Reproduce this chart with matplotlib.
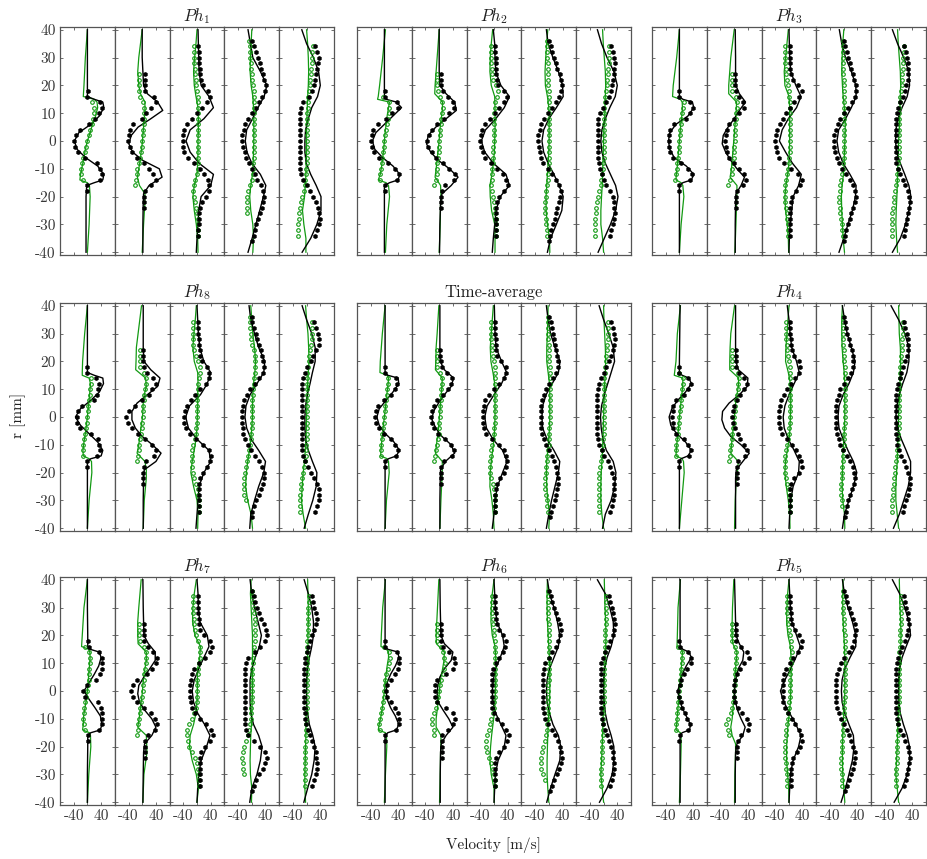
import numpy as np
import matplotlib.pyplot as plt

nan = np.nan

# radial stations [mm]; experiments per sub-column, simulation samples per sub-column
R_EXP_1 = [18, 16, 14, 12, 10, 8, 6, 4, 2, 0, -2, -4, -6, -8, -10, -12, -14, -16, -18]
R_EXP_2 = [24, 22, 20, 18, 16, 14, 12, 10, 8, 6, 4, 2, 0, -2, -4, -6, -8, -10, -12, -14, -16, -18, -20, -22, -24]
R_EXP_3 = [34, 32, 30, 28, 26, 24, 22, 20, 18, 16, 14, 12, 10, 8, 6, 4, 2, 0, -2, -4, -6, -8, -10, -12,
           -14, -16, -18, -20, -22, -24, -26, -28, -30, -32, -34]
R_EXP_4 = [36, 34, 32, 30, 28, 26, 24, 22, 20, 18, 16, 14, 12, 10, 8, 6, 4, 2, 0, -2, -4, -6, -8, -10, -12,
           -14, -16, -18, -20, -22, -24, -26, -28, -30, -32, -34, -36]
R_EXP = [R_EXP_1, R_EXP_2, R_EXP_3, R_EXP_4, R_EXP_3]

R_SIM_1 = [40, 30, 20, 16, 15, 14, 12, 9, 6, 3, 0, -3, -6, -9, -12, -14, -15, -16, -20, -30, -40]
R_SIM_2 = [40, 30, 25, 20, 17, 14, 11, 8, 5, 2, -1, -4, -7, -10, -13, -16, -19, -22, -30, -40]
R_SIM_3 = [40, 35, 30, 25, 20, 16, 12, 8, 4, 0, -4, -8, -12, -16, -20, -25, -30, -35, -40]
R_SIM = [R_SIM_1, R_SIM_2, R_SIM_3, R_SIM_3, R_SIM_3]

# ---- Ph1 ----
PH1_AX_EXP = [
    [1, 0, 38, 43, 33, 23, 6, -22, -34, -40, -37, -27, -7, 28, 38, 43, 38, 0, 0],
    [7, 8, 8, 8, 34, 40, 25, 12, 0, -28, -36, -38, -42, -35, -30, -15, 5, 21, 32, 40, 27, 7, 5, 4, 4],
    [4, 6, 6, 7, 8, 9, 12, 18, 31, 38, 28, 16, 0, -15, -29, -38, -41, -42, -41, -38, -25, -8, 8, 20, 31,
     36, 36, 26, 14, 8, 6, 5, 5, 4, 4],
    [1, 6, 13, 17, 23, 28, 33, 37, 41, 38, 31, 21, 11, 1, -11, -19, -24, -29, -29, -27, -21, -17, -9, 1, 9,
     16, 26, 33, 36, 33, 29, 24, 19, 13, 9, 5, 1],
    [25, 30, 35, 34, 31, 28, 25, 22, 15, 6, -10, -16, -18, -18, -18, -18, -18, -18, -18, -18, -18, -18, -18,
     -16, -10, 0, 10, 20, 28, 32, 36, 38, 36, 30, 25],
]
PH1_TG_EXP = [
    [nan, nan, 12, 18, 20, 16, 12, 8, 4, 0, -4, -8, -12, -16, -20, -18, -12, nan, nan],
    [-10, -10, -10, -8, -5, 2, 5, 5, 5, 4, 3, 2, 0, -2, -4, -7, -10, -14, -16, -18, -20, nan, nan, nan, nan],
    [-10, -10, -9, -8, -7, -6, -4, -2, 0, 2, 3, 4, 4, 4, 4, 4, 4, 4, 4, 4, 4, 3, 2, 0, -6, -10, -12, -10, -6,
     -2, 0, 2, 2, 2, 2],
    [-8, -6, -5, -4, -3, -2, 0, 2, 4, 5, 6, 6, 6, 6, 5, 5, 5, 5, 5, 5, 5, 5, 4, 4, 3, 0, -6, -10, -13, -15,
     -15, -14, nan, nan, nan, nan, nan],
    [18, 17, 16, 15, 13, 12, 10, 9, 7, 5, 4, 3, 2, 2, 2, 2, 2, 2, 2, 1, 1, 0, -1, -2, -4, -6, -8, -12, -16,
     -20, -22, -23, -24, -25, -25],
]
PH1_AX_SIM = [
    [0, 0, 0, 0, 20, 45, 48, 35, 10, -25, -38, -30, -5, 30, 48, 45, 20, -2, -4, -4, -4],
    [0, 0, 2, 4, 15, 45, 60, 25, -12, -32, -39, -28, 2, 50, 58, 20, 4, 3, 2, 2],
    [3, 4, 5, 6, 12, 35, 48, 20, -20, -32, -20, 6, 48, 40, 12, 5, 3, 0, -2],
    [-11, -4, 3, 25, 44, 36, 18, 2, -15, -19, -14, 0, 25, 41, 34, 23, 12, 1, -11],
    [-14, 0, 20, 35, 40, 32, 15, 5, -3, -5, -5, -1, 12, 28, 42, 42, 30, 12, -13],
]
PH1_TG_SIM = [
    [0, -6, -10, -12, 20, 28, 30, 24, 15, 8, 0, -6, -10, -15, -20, -22, 0, 6, 8, 5, 0],
    [0, -10, -13, -10, -5, 8, 8, 6, 4, 2, 0, -3, -6, -10, -14, -8, 8, 8, 4, 0],
    [0, -3, -7, -10, -8, -3, 3, 4, 4, 3, 3, 2, 0, -8, -12, -8, -2, 2, 3],
    [0, -2, -4, -5, -2, 3, 5, 6, 6, 6, 5, 4, 2, -3, -6, -3, 3, 5, 3],
    [0, 3, 5, 6, 5, 3, 2, 1, 0, 0, 0, -1, -2, -4, -6, -12, -8, -2, -2],
]

# ---- Ph2 ----
PH2_AX_EXP = [
    [2, 3, 38, 40, 22, 5, -20, -33, -37, -38, -36, -30, -15, 10, 30, 42, 38, 2, 2],
    [4, 4, 5, 10, 25, 40, 42, 30, 15, -5, -20, -30, -36, -32, -22, -8, 10, 30, 45, 42, 18, 7, 6, 6, 6],
    [4, 4, 5, 5, 5, 6, 8, 13, 28, 37, 30, 15, 2, -12, -25, -35, -39, -40, -38, -32, -25, -8, 10, 25, 35,
     42, 30, 15, 8, 6, 5, 5, 5, 5, 5],
    [1, 5, 10, 15, 20, 25, 32, 36, 38, 36, 30, 22, 10, -2, -14, -22, -27, -31, -32, -30, -27, -22, -16, -2,
     10, 22, 30, 35, 34, 30, 25, 21, 17, 12, 7, 3, 1],
    [22, 27, 30, 32, 31, 29, 27, 25, 21, 15, 8, -3, -10, -15, -16, -17, -17, -17, -17, -17, -16, -14, -10,
     -5, 0, 8, 20, 26, 29, 31, 32, 30, 27, 23, 20],
]
PH2_TG_EXP = [
    [nan, -5, 12, 12, 12, 10, 7, 4, 2, 0, -2, -4, -6, -8, -10, -12, -12, nan, nan],
    [-5, -5, -5, -4, 2, 9, 10, 8, 6, 4, 2, 1, 0, -1, -2, -3, -5, -6, -7, -10, -16, nan, nan, nan, nan],
    [-9, -9, -8, -8, -7, -6, -4, 5, 12, 8, 4, 2, 0, 0, -1, -1, -1, -1, -2, -2, -3, -4, -5, -6, -7, -8, -7,
     -4, 0, 3, 4, 5, 5, 5, 5],
    [-4, -4, -4, -4, -3, -3, -2, -2, -1, 0, 1, 2, 2, 2, 2, 2, 2, 2, 2, 2, 2, 1, 1, 0, -1, -3, -5, -7, -9,
     -10, -10, -10, -9, -7, -5, -4, nan],
    [15, 15, 15, 15, 14, 13, 11, 9, 6, 4, 3, 2, 2, 2, 2, 1, 1, 1, 1, 0, 0, -2, -3, -5, -7, -9, -12, -15,
     -18, -21, -23, -24, -25, -25, -25],
]
PH2_AX_SIM = [
    [0, 0, 0, 0, 5, 35, 50, 25, 0, -25, -35, -28, -5, 25, 45, 40, 15, 0, 0, 0, 0],
    [0, 0, 0, 2, 20, 45, 50, 20, -10, -32, -37, -25, -2, 30, 55, 35, 8, 4, 2, 1],
    [-2, 2, 3, 5, 20, 45, 30, 5, -25, -37, -27, -2, 35, 45, 18, 6, 2, -2, -5],
    [-7, -2, 12, 28, 40, 42, 22, 0, -15, -20, -15, -2, 15, 30, 42, 38, 22, 5, -4],
    [-18, -6, 10, 30, 40, 34, 18, 5, -5, -8, -5, 5, 20, 35, 42, 35, 20, 2, -16],
]
PH2_TG_SIM = [
    [3, -5, -14, -18, -20, 15, 12, 8, 5, 2, 0, -2, -5, -8, -12, -18, 5, 12, 15, 7, 3],
    [0, -6, -9, -12, -13, 10, 9, 6, 3, 1, -1, -4, -6, -9, -12, 4, 5, 4, 3, 0],
    [-4, -8, -11, -12, -8, 2, 3, 3, 3, 2, 1, -2, -6, -12, -11, -7, 2, 3, 3],
    [-3, -6, -9, -11, -10, -4, 0, 1, 1, 1, 0, -2, -4, -6, -8, -8, -4, 2, 3],
    [-3, -1, 2, 5, 6, 5, 4, 3, 1, 0, -1, -2, -3, -4, -6, -8, -8, -3, 0],
]

# ---- Ph3 ----
PH3_AX_EXP = [
    [0, 0, 30, 40, 30, 18, -15, -28, -30, -30, -30, -28, -20, 5, 25, 38, 30, 0, 0],
    [3, 3, 3, 5, 13, 25, 28, 15, 0, -15, -20, -25, -27, -25, -20, -15, 0, 15, 28, 33, 25, 8, 4, 4, 4],
    [2, 3, 3, 4, 4, 6, 12, 25, 37, 30, 15, 2, -10, -18, -27, -35, -39, -40, -39, -36, -30, -15, 5, 25, 37,
     32, 20, 8, 5, 4, 3, 3, 3, 2, 2],
    [1, 4, 8, 12, 17, 22, 27, 31, 35, 37, 33, 25, 13, 2, -10, -18, -24, -28, -29, -28, -25, -21, -15, -5, 7,
     18, 28, 33, 36, 33, 28, 22, 17, 12, 7, 3, 1],
    [17, 21, 25, 27, 28, 28, 26, 23, 18, 12, 5, -2, -6, -8, -9, -9, -9, -9, -9, -9, -8, -7, -3, 4, 12, 20,
     27, 31, 32, 31, 28, 25, 22, 19, 15],
]
PH3_TG_EXP = [
    [nan, nan, 12, 11, 9, 6, 4, 2, 1, 0, -1, -2, -4, -6, -8, -10, -12, nan, nan],
    [-7, -7, -7, -6, 5, 8, 7, 5, 4, 3, 3, 2, 1, 0, -1, -2, -3, -5, -7, -12, -17, nan, nan, nan, nan],
    [-12, -12, -12, -11, -10, -8, -5, -2, 0, 1, 2, 2, 2, 2, 2, 2, 2, 2, 2, 2, 1, 0, -2, -5, -8, -11, -13,
     -13, -12, -10, -7, -5, -4, -3, -3],
    [-3, -3, -3, -3, -2, -2, -1, 0, 1, 2, 2, 2, 2, 2, 1, 1, 1, 1, 1, 1, 0, 0, -1, -2, -4, -7, -10, -12, -13,
     -13, -12, -10, -8, -6, -4, -3, nan],
    [15, 15, 14, 13, 12, 11, 10, 9, 7, 5, 3, 2, 2, 2, 2, 2, 2, 1, 1, 0, 0, -1, -2, -4, -6, -8, -10, -12,
     -14, -16, -18, -19, -20, -20, -20],
]
PH3_AX_SIM = [
    [0, 0, 0, 0, 10, 38, 42, 25, -10, -28, -32, -28, -15, 20, 42, 35, 10, 0, 0, 0, 0],
    [3, 4, 4, 5, 15, 33, 15, 0, -18, -32, -35, -25, -10, 8, 30, 20, 5, 4, 3, 3],
    [0, 1, 2, 5, 20, 35, 22, -2, -20, -28, -10, 10, 36, 28, 12, 8, 3, 1, 0],
    [-13, -6, 5, 22, 35, 36, 22, 5, -15, -20, -15, -2, 18, 36, 34, 25, 12, 0, -14],
    [-18, -3, 15, 30, 32, 25, 10, -2, -8, -9, -6, 5, 18, 30, 36, 30, 20, 5, -18],
]
PH3_TG_SIM = [
    [0, -8, -18, -20, 3, 8, 9, 7, 4, 2, 0, -2, -4, -6, -9, -10, 5, 10, 13, 5, 0],
    [0, -10, -13, -16, -16, 7, 6, 4, 2, 0, -2, -4, -6, -8, -12, 8, 8, 7, 5, 2],
    [-2, -6, -10, -14, -12, 0, 2, 2, 2, 2, 1, 0, -4, -9, -12, -10, -5, -2, -1],
    [0, -3, -5, -6, -4, -2, 2, 4, 4, 3, 2, 1, -1, -5, -7, -6, -4, -2, 2],
    [-3, -1, 2, 5, 6, 5, 4, 3, 2, 0, -1, -2, -3, -4, -5, -7, -8, -6, -3],
]

# ---- Ph8 ----
PH8_AX_EXP = [
    [0, 0, 25, 35, 32, 28, 18, -15, -28, -31, -30, -22, 10, 30, 35, 38, 28, 0, 0],
    [3, 3, 3, 5, 15, 32, 40, 30, 20, 0, -20, -38, -48, -42, -30, -12, 8, 28, 40, 35, 12, 5, 3, 3, 3],
    [3, 3, 4, 5, 6, 8, 10, 15, 28, 35, 35, 25, 10, -5, -18, -30, -36, -38, -37, -33, -20, -2, 18, 35, 42,
     38, 28, 18, 10, 7, 6, 5, 5, 5, 5],
    [0, 2, 6, 11, 16, 21, 26, 31, 34, 36, 33, 22, 8, -5, -15, -22, -26, -28, -28, -28, -27, -25, -20, -12,
     -2, 10, 22, 30, 36, 35, 32, 27, 20, 13, 7, 2, 0],
    [22, 27, 33, 37, 35, 28, 20, 12, 2, -5, -10, -12, -13, -13, -13, -13, -13, -13, -13, -13, -13, -13, -13,
     -12, -10, -5, 3, 12, 22, 30, 35, 37, 36, 30, 25],
]
PH8_TG_EXP = [
    [nan, nan, 10, 10, 9, 8, 6, 3, 1, 0, -2, -4, -7, -10, -12, -13, -12, nan, nan],
    [-7, -7, -7, -6, 5, 12, 10, 8, 6, 4, 3, 2, 1, 0, -2, -4, -6, -8, -10, -13, -16, nan, nan, nan, nan],
    [-12, -12, -12, -12, -11, -9, -4, 4, 8, 8, 5, 3, 2, 1, 1, 0, 0, 0, -1, -2, -4, -7, -11, -14, -15, -15,
     -14, -12, -8, -2, 2, 4, 5, 5, 5],
    [-5, -6, -5, -3, -1, 2, 5, 8, 10, 10, 8, 6, 5, 4, 3, 2, 2, 2, 2, 1, 0, -1, -3, -5, -8, -11, -15, -18,
     -21, -23, -24, -24, -22, -18, nan, nan, nan],
    [15, 16, 17, 16, 14, 11, 8, 6, 4, 2, 1, 0, 0, 0, 0, 0, 0, 0, 0, 0, 0, 0, -1, -2, -3, -5, -8, -10, -13,
     -15, -17, -18, -19, -19, -19],
]
PH8_AX_SIM = [
    [0, 0, 0, 0, 20, 45, 47, 35, 10, -20, -35, -20, 5, 30, 45, 40, 10, 0, 0, 0, 0],
    [3, 3, 3, 5, 25, 52, 45, 15, -15, -30, -30, -20, 0, 30, 55, 40, 6, 4, 3, 3],
    [0, 2, 4, 8, 20, 40, 30, 10, -22, -33, -25, 0, 35, 40, 20, 6, 3, 0, -3],
    [-8, -3, 8, 20, 38, 35, 15, -5, -17, -20, -15, -2, 20, 40, 35, 20, 8, -3, -6],
    [-13, 0, 15, 25, 25, 17, 10, 2, -3, -5, -5, -3, 5, 17, 30, 28, 18, 5, -7],
]
PH8_TG_SIM = [
    [0, -8, -14, -15, -15, 5, 9, 7, 5, 2, 0, -3, -6, -10, -13, -12, 5, 12, 13, 5, 0],
    [-2, -12, -17, -18, -19, 10, 12, 6, 3, 2, 0, -4, -7, -10, -15, 8, 12, 12, 6, 3],
    [-2, -5, -9, -12, -8, 2, 3, 2, 2, 1, 0, -3, -8, -14, -18, -10, 0, 3, 2],
    [-3, 0, 3, 8, 11, 9, 5, 3, 2, 2, 0, -3, -7, -12, -16, -18, -12, -2, 2],
    [-3, 0, 4, 6, 7, 5, 3, 2, 1, 0, -1, -2, -4, -6, -10, -13, -15, -10, -3],
]

# ---- Time-average ----
TA_AX_EXP = [
    [2, 2, 33, 38, 30, 18, 0, -18, -25, -27, -25, -15, 0, 20, 32, 40, 33, 3, 2],
    [3, 3, 4, 8, 22, 38, 35, 25, 10, -5, -15, -22, -25, -22, -15, -3, 18, 35, 42, 38, 15, 5, 4, 4, 4],
    [3, 3, 4, 5, 6, 7, 10, 20, 35, 36, 28, 15, 0, -15, -25, -30, -32, -32, -32, -30, -22, -5, 15, 28, 36,
     38, 35, 28, 18, 10, 6, 4, 3, 3, 3],
    [1, 5, 8, 11, 14, 18, 22, 25, 28, 26, 20, 12, 2, -8, -15, -20, -22, -22, -22, -22, -22, -20, -15, -8, 2,
     10, 16, 21, 25, 28, 27, 25, 21, 17, 12, 7, 3],
    [22, 26, 30, 32, 30, 27, 22, 16, 8, 0, -8, -14, -17, -18, -18, -18, -18, -18, -18, -18, -18, -16, -12,
     -6, 2, 12, 20, 25, 29, 31, 31, 30, 28, 24, 20],
]
TA_TG_EXP = [
    [nan, nan, 10, 10, 9, 7, 5, 3, 1, 0, -2, -4, -6, -8, -10, -11, -11, nan, nan],
    [-6, -6, -6, -5, 3, 9, 8, 6, 5, 4, 3, 2, 1, 0, -1, -2, -4, -6, -9, -12, -14, nan, nan, nan, nan],
    [-9, -9, -9, -8, -7, -5, -2, 1, 3, 4, 4, 3, 3, 3, 3, 3, 3, 2, 2, 1, 0, -2, -5, -8, -10, -12, -12, -11,
     -8, -4, 0, 2, 3, 3, 3],
    [-3, -2, -2, -2, -1, 0, 0, 1, 2, 3, 3, 3, 3, 3, 3, 3, 3, 3, 3, 3, 2, 2, 1, 0, -2, -4, -6, -8, -9, -10,
     -10, -10, -8, -6, -4, -2, nan],
    [13, 13, 13, 12, 11, 10, 8, 6, 4, 3, 2, 1, 1, 1, 0, 0, 0, 0, 0, 0, 0, -1, -2, -4, -6, -8, -10, -12,
     -13, -14, -14, -14, -14, -14, -14],
]
TA_AX_SIM = [
    [2, 2, 2, 2, 10, 40, 42, 25, 5, -15, -22, -15, 3, 28, 44, 35, 12, 2, 2, 2, 2],
    [2, 2, 2, 3, 15, 42, 35, 15, -2, -17, -21, -10, 8, 35, 45, 18, 4, 3, 2, 2],
    [1, 2, 3, 6, 22, 37, 22, 0, -20, -27, -22, -3, 25, 38, 25, 10, 3, 0, -5],
    [-7, -2, 5, 18, 33, 28, 10, -8, -18, -20, -18, -5, 15, 32, 28, 18, 8, 0, -7],
    [-13, 0, 15, 28, 32, 22, 12, 2, -6, -9, -7, -2, 8, 28, 36, 32, 22, 5, -3],
]
TA_TG_SIM = [
    [2, -6, -12, -13, 8, 12, 11, 8, 5, 3, 0, -3, -5, -8, -10, -11, 8, 12, 14, 6, 2],
    [-1, -6, -9, -10, -11, 9, 8, 6, 4, 2, 0, -2, -5, -8, -11, 9, 9, 8, 5, 2],
    [-2, -5, -8, -11, -9, -3, 2, 3, 3, 3, 2, 0, -4, -8, -11, -12, -6, -2, 0],
    [-2, -3, -4, -6, -6, -2, 2, 3, 3, 3, 2, 0, -3, -6, -7, -6, -3, 2, 0],
    [0, 1, 3, 5, 6, 5, 3, 2, 1, 0, -1, -2, -3, -5, -7, -8, -8, -5, 0],
]

# ---- Ph4 ----
PH4_AX_EXP = [
    [0, 0, 25, 33, 25, 12, -10, -18, -20, -21, -20, -18, -10, 12, 25, 33, 28, 0, 0],
    [4, 4, 4, 6, 14, 30, 38, 30, 18, 8, 0, -4, -5, -4, 2, 10, 16, 28, 38, 32, 12, 7, 7, 7, 7],
    [3, 4, 4, 5, 6, 8, 15, 28, 33, 28, 18, 5, -5, -15, -22, -27, -28, -28, -28, -27, -20, -5, 10, 20, 28,
     34, 38, 28, 15, 6, 4, 3, 3, 3, 3],
    [2, 3, 5, 9, 14, 19, 24, 27, 28, 26, 22, 12, 0, -10, -15, -20, -22, -23, -23, -23, -22, -20, -15, -10,
     -2, 8, 18, 26, 31, 33, 30, 25, 18, 12, 8, 5, 3],
    [17, 20, 24, 27, 27, 26, 24, 20, 14, 8, 3, -2, -6, -8, -8, -8, -8, -8, -8, -8, -8, -6, -4, 0, 6, 15, 22,
     28, 32, 32, 31, 28, 22, 17, 12],
]
PH4_TG_EXP = [
    [nan, 0, 10, 10, 9, 8, 6, 4, 2, 0, -2, -4, -5, -7, -9, -10, -10, nan, nan],
    [-6, -6, -6, -5, 10, 14, 12, 10, 8, 5, 3, 1, 0, -2, -4, -6, -7, -9, -11, -13, -14, nan, nan, nan, nan],
    [-9, -9, -9, -8, -7, -5, -2, 1, 3, 3, 3, 3, 3, 3, 3, 3, 3, 2, 2, 1, 0, -2, -6, -10, -12, -13, -13, -12,
     -10, -5, 0, 2, 3, 3, 3],
    [-2, -2, -2, -2, -1, -1, 0, 1, 2, 3, 3, 3, 3, 3, 3, 3, 3, 3, 3, 3, 2, 2, 1, 0, -1, -2, -3, -4, -5, -6,
     -7, -7, -7, -6, -5, nan, nan],
    [12, 12, 12, 11, 10, 9, 8, 7, 5, 4, 3, 2, 2, 2, 2, 2, 2, 1, 1, 0, -1, -2, -3, -4, -6, -8, -10, -11,
     -12, -14, -16, -17, -18, -18, -18],
]
PH4_AX_SIM = [
    [2, 1, 0, 0, 8, 28, 35, 18, -5, -22, -30, -25, -8, 18, 35, 25, 5, 0, 0, 0, 0],
    [4, 4, 4, 5, 12, 40, 38, 15, -15, -34, -36, -28, -10, 20, 44, 25, 6, 4, 4, 4],
    [-5, 0, 3, 8, 22, 30, 15, 0, -12, -17, -14, -2, 15, 30, 28, 12, 5, 2, 0],
    [-4, 2, 10, 22, 33, 28, 15, -2, -14, -17, -14, -2, 12, 28, 38, 28, 15, 2, -4],
    [-22, 0, 18, 30, 30, 24, 12, 2, -5, -8, -3, 8, 22, 35, 35, 28, 15, 2, -15],
]
PH4_TG_SIM = [
    [3, -6, -10, -14, -15, 10, 10, 8, 5, 3, 0, -2, -4, -7, -9, -10, 8, 12, 14, 7, 0],
    [1, -10, -12, -13, -13, 13, 12, 8, 4, 2, 0, -3, -5, -8, -10, 12, 10, 6, 3, 1],
    [0, -3, -6, -9, -10, -2, 4, 5, 5, 4, 3, 0, -5, -10, -12, -8, -2, 2, 3],
    [-4, -6, -6, -5, -2, 1, 3, 3, 3, 3, 2, 0, -2, -3, -4, -5, -3, 2, 3],
    [0, 1, 2, 5, 6, 5, 4, 3, 1, 0, -1, -2, -3, -4, -6, -8, -8, -4, 0],
]

# ---- Ph7 ----
PH7_AX_EXP = [
    [2, 5, 33, 42, 43, 42, 36, 25, 0, -12, -8, 30, 40, 43, 43, 42, 35, 3, 1],
    [4, 4, 4, 6, 17, 32, 42, 40, 30, 15, -15, -28, -33, -26, -15, 5, 25, 38, 42, 38, 16, 7, 7, 7, 7],
    [3, 3, 4, 4, 5, 6, 10, 20, 38, 45, 38, 22, 5, -8, -14, -18, -19, -19, -19, -18, -14, -5, 10, 26, 41,
     46, 38, 22, 12, 9, 8, 8, 8, 8, 8],
    [2, 6, 10, 16, 22, 28, 35, 42, 45, 38, 25, 10, -10, -18, -20, -20, -20, -20, -20, -20, -20, -20, -20,
     -20, -20, -18, -10, 5, 25, 38, 45, 40, 32, 22, 12, 5, 2],
    [15, 18, 22, 26, 29, 28, 22, 16, 10, 5, 0, -4, -6, -7, -7, -7, -7, -7, -7, -7, -7, -6, -5, -2, 3, 10, 17,
     22, 26, 28, 30, 30, 28, 22, 15],
]
PH7_TG_EXP = [
    [nan, -7, 6, 7, 7, 6, 5, 4, 2, 0, -3, -6, -9, -11, -12, -10, -8, nan, nan],
    [-8, -8, -8, -7, 4, 12, 12, 10, 8, 6, 4, 2, 1, -1, -3, -5, -7, -9, -11, -13, -14, nan, nan, nan, nan],
    [-12, -12, -12, -11, -10, -8, -6, -3, 2, 8, 10, 8, 5, 3, 2, 1, 1, 1, 0, -1, -3, -8, -14, -22, -28, -29,
     -27, -22, -15, -7, 0, 3, 5, 6, 6],
    [0, 1, 3, 5, 7, 9, 10, 10, 10, 8, 6, 5, 4, 3, 2, 2, 2, 2, 2, 1, 0, -1, -2, -3, -5, -8, -12, -18, -23,
     -27, -28, -27, -25, -22, nan, nan, nan],
    [6, 6, 5, 5, 4, 4, 3, 3, 2, 2, 1, 1, 1, 0, 0, 0, 0, 0, 0, 0, 0, -1, -1, -2, -2, -3, -3, -4, -4, -5, -5,
     -5, -5, -5, -5],
]
PH7_AX_SIM = [
    [0, 0, 1, 1, 8, 35, 40, 33, 20, 5, -10, 5, 22, 38, 42, 38, 10, 1, 1, 0, 0],
    [2, 3, 4, 5, 18, 38, 38, 22, 5, -10, -13, -8, 8, 28, 40, 28, 7, 4, 3, 2],
    [0, 3, 4, 8, 30, 35, 20, 5, -8, -14, -10, 2, 22, 38, 28, 12, 5, 2, 0],
    [-5, 0, 8, 18, 28, 22, 10, 0, -5, -5, -5, -3, 5, 20, 30, 25, 15, 0, -6],
    [-7, 5, 15, 20, 20, 15, 8, 3, 0, 0, 0, 3, 8, 18, 25, 22, 15, 3, -8],
]
PH7_TG_SIM = [
    [0, -10, -15, -17, 4, 7, 8, 6, 4, 2, 0, -3, -7, -11, -12, -14, 6, 9, 10, 4, 0],
    [-3, -10, -13, -13, -12, 12, 12, 8, 4, 2, 0, -3, -6, -9, -13, 12, 13, 14, 5, 2],
    [-2, -8, -12, -13, -6, 10, 8, 2, 1, 1, 0, -3, -10, -20, -22, -14, -2, 4, 0],
    [-2, -4, -2, 0, 2, 2, 2, 2, 2, 2, 1, 0, -1, -3, -4, -5, -4, 0, -1],
    [3, 4, 5, 5, 4, 4, 3, 2, 1, 0, 0, -1, -2, -2, -3, -4, -5, -5, -3],
]

# ---- Ph6 ----
PH6_AX_EXP = [
    [2, 3, 38, 42, 42, 40, 32, 18, 8, 5, 8, 18, 30, 40, 42, 42, 35, 3, 2],
    [4, 4, 4, 5, 10, 30, 42, 46, 40, 20, -5, -11, -12, -11, -5, 20, 40, 46, 40, 25, 9, 7, 7, 7, 7],
    [3, 3, 4, 5, 6, 8, 15, 25, 35, 33, 25, 15, 5, -3, -6, -7, -7, -7, -7, -7, -5, 0, 10, 22, 35, 43, 38,
     28, 15, 7, 4, 3, 3, 3, 3],
    [2, 5, 10, 16, 22, 28, 33, 36, 33, 28, 20, 10, 0, -10, -15, -17, -18, -18, -18, -18, -18, -17, -15, -10,
     -2, 8, 18, 26, 32, 36, 38, 36, 30, 24, 16, 8, 3],
    [17, 20, 24, 27, 30, 32, 30, 26, 20, 12, 4, -3, -7, -8, -8, -8, -8, -8, -8, -8, -8, -7, -6, -3, 3, 10,
     17, 22, 26, 28, 31, 30, 27, 24, 20],
]
PH6_TG_EXP = [
    [nan, 0, 14, 15, 13, 10, 6, 3, 1, 0, -2, -4, -6, -10, -14, -16, -12, nan, nan],
    [-6, -6, -6, -5, 5, 10, 14, 17, 15, 10, 5, 2, 0, -3, -5, -8, -15, -22, -20, -16, -14, nan, nan, nan, nan],
    [-5, -5, -5, -5, -4, -3, -1, 1, 3, 4, 4, 4, 3, 3, 3, 3, 3, 3, 2, 1, -1, -4, -8, -12, -16, -20, -22, -22,
     -20, -16, -10, -4, 0, 2, 3],
    [-2, -2, -2, -2, -1, -1, 0, 0, 0, 0, 0, 0, 0, 0, 0, 0, 0, -1, -1, -1, -1, -1, -2, -3, -4, -6, -9, -12,
     -16, -20, -22, -23, -22, -18, -10, nan, nan],
    [8, 8, 8, 7, 7, 6, 5, 5, 4, 3, 3, 2, 2, 1, 1, 1, 0, 0, 0, 0, -1, -1, -2, -2, -3, -3, -4, -4, -5, -5, -6,
     -7, -8, -8, -8],
]
PH6_AX_SIM = [
    [2, 2, 2, 2, 10, 40, 42, 32, 18, 8, 5, 8, 18, 32, 42, 35, 10, 2, 2, 2, 2],
    [2, 3, 4, 5, 15, 40, 35, 15, 2, -4, -6, -3, 12, 28, 40, 20, 6, 4, 3, 3],
    [0, 2, 4, 8, 25, 30, 18, 5, -2, -5, -3, 5, 20, 35, 30, 12, 4, 2, 0],
    [-4, 2, 15, 25, 32, 28, 15, 2, -5, -7, -5, 2, 12, 28, 35, 32, 18, 5, -6],
    [-18, 5, 18, 28, 30, 22, 10, 3, 0, 0, 2, 5, 12, 22, 30, 30, 25, 10, -12],
]
PH6_TG_SIM = [
    [3, -5, -9, -10, 6, 12, 12, 8, 5, 2, 0, -3, -6, -10, -15, -18, 3, 6, 7, 3, 0],
    [-1, -5, -7, -9, -8, 15, 14, 10, 5, 2, 0, -3, -6, -9, -9, 5, 5, 4, 3, 1],
    [0, -5, -8, -9, -5, 3, 5, 5, 5, 4, 3, 1, -3, -7, -10, -12, -8, 0, 1],
    [-4, -5, -5, -4, -2, 0, 2, 3, 3, 3, 2, 0, -2, -3, -4, -5, -5, -3, 0],
    [2, 3, 4, 6, 7, 6, 4, 3, 2, 1, 0, -1, -2, -3, -4, -6, -8, -4, 0],
]

# ---- Ph5 ----
PH5_AX_EXP = [
    [0, 1, 25, 35, 33, 22, 12, 6, 2, -4, 0, 4, 8, 15, 22, 30, 26, 3, 0],
    [4, 4, 4, 6, 20, 38, 42, 30, 18, 8, 2, 0, -1, 0, 2, 10, 22, 38, 44, 40, 20, 10, 9, 9, 9],
    [3, 4, 4, 5, 6, 8, 18, 30, 37, 35, 25, 12, 2, -8, -14, -17, -18, -18, -18, -17, -12, -2, 8, 18, 28, 35,
     38, 33, 22, 12, 8, 7, 6, 6, 6],
    [2, 5, 10, 16, 22, 28, 32, 35, 34, 30, 24, 15, 2, -8, -15, -20, -22, -22, -22, -22, -22, -20, -15, -8, 0,
     8, 16, 22, 28, 32, 33, 30, 26, 20, 14, 8, 3],
    [17, 20, 23, 26, 28, 30, 28, 24, 18, 10, 3, -3, -6, -8, -8, -8, -8, -8, -8, -8, -8, -7, -5, -2, 4, 12,
     20, 26, 30, 32, 31, 28, 25, 21, 17],
]
PH5_TG_EXP = [
    [nan, -5, 7, 8, 7, 6, 4, 3, 2, 0, -2, -4, -5, -6, -7, -9, -10, nan, nan],
    [-6, -6, -6, -5, 2, 5, 5, 4, 3, 2, 2, 1, 0, -1, -3, -5, -8, -18, -24, -18, -15, nan, nan, nan, nan],
    [-5, -5, -5, -5, -4, -3, -1, 2, 5, 7, 8, 7, 5, 4, 3, 3, 3, 3, 2, 1, 0, -2, -4, -6, -8, -10, -12, -13,
     -13, -12, -10, -8, -6, -5, -5],
    [-2, -2, -2, -2, -1, 0, 1, 2, 3, 3, 3, 3, 3, 3, 3, 3, 3, 3, 3, 3, 2, 2, 1, 0, -1, -2, -3, -4, -5, -6, -7,
     -7, -7, -6, -5, -4, nan],
    [7, 7, 7, 7, 6, 6, 5, 4, 3, 3, 2, 2, 2, 1, 1, 1, 1, 0, 0, 0, -1, -1, -2, -2, -3, -3, -4, -4, -5, -5, -6,
     -7, -8, -8, -8],
]
PH5_AX_SIM = [
    [2, 2, 2, 2, 10, 28, 35, 20, 8, 2, -5, 0, 8, 20, 32, 30, 8, 2, 2, 2, 2],
    [1, 3, 4, 5, 15, 28, 25, 12, 6, 2, 1, 4, 10, 20, 32, 25, 8, 4, 3, 3],
    [0, 2, 4, 8, 22, 33, 20, 5, -12, -25, -15, 2, 20, 35, 28, 12, 4, 2, 0],
    [-4, 2, 12, 25, 35, 35, 18, 3, -5, -7, -5, 3, 15, 28, 30, 25, 15, 5, -8],
    [-18, 3, 18, 30, 35, 22, 10, 3, 0, 0, 1, 5, 14, 25, 32, 32, 25, 10, -13],
]
PH5_TG_SIM = [
    [3, -4, -6, -7, 5, 9, 8, 6, 4, 2, 0, -2, -4, -6, -8, -10, 3, 5, 5, 3, 0],
    [-1, -5, -6, -6, -4, 8, 6, 4, 2, 1, 0, -2, -4, -6, -10, -6, 4, 4, 2, 1],
    [0, -4, -6, -7, -3, 4, 6, 6, 6, 5, 4, 1, -3, -5, -7, -7, -4, -1, 0],
    [-2, -3, -3, -2, 0, 2, 3, 3, 3, 3, 2, 0, -2, -3, -4, -4, -3, 0, 3],
    [2, 3, 4, 6, 7, 6, 4, 3, 2, 1, 0, -1, -2, -3, -4, -6, -8, -4, 0],
]

TITLES = [["$Ph_1$", "$Ph_2$", "$Ph_3$"],
          ["$Ph_8$", "Time-average", "$Ph_4$"],
          ["$Ph_7$", "$Ph_6$", "$Ph_5$"]]
PANELS = [
    [(PH1_AX_EXP, PH1_TG_EXP, PH1_AX_SIM, PH1_TG_SIM),
     (PH2_AX_EXP, PH2_TG_EXP, PH2_AX_SIM, PH2_TG_SIM),
     (PH3_AX_EXP, PH3_TG_EXP, PH3_AX_SIM, PH3_TG_SIM)],
    [(PH8_AX_EXP, PH8_TG_EXP, PH8_AX_SIM, PH8_TG_SIM),
     (TA_AX_EXP, TA_TG_EXP, TA_AX_SIM, TA_TG_SIM),
     (PH4_AX_EXP, PH4_TG_EXP, PH4_AX_SIM, PH4_TG_SIM)],
    [(PH7_AX_EXP, PH7_TG_EXP, PH7_AX_SIM, PH7_TG_SIM),
     (PH6_AX_EXP, PH6_TG_EXP, PH6_AX_SIM, PH6_TG_SIM),
     (PH5_AX_EXP, PH5_TG_EXP, PH5_AX_SIM, PH5_TG_SIM)],
]

plt.rcParams['font.family'] = 'cmr10'
plt.rcParams['mathtext.fontset'] = 'cm'
plt.rcParams['axes.unicode_minus'] = False
plt.rcParams['axes.formatter.use_mathtext'] = True

GREEN = '#139a13'
FRAME = '#555555'
W, H = 928, 859
panel_left = [60, 357, 652]
panel_top = [27, 303, 577]
sub_w, panel_h = 54.8, 228

fig = plt.figure(figsize=(W / 100, H / 100), dpi=100)

for i in range(3):
    for j in range(3):
        ax_exp, tg_exp, ax_sim, tg_sim = PANELS[i][j]
        for k in range(5):
            for name, arr, grid in (("ax_exp", ax_exp, R_EXP), ("tg_exp", tg_exp, R_EXP),
                                    ("ax_sim", ax_sim, R_SIM), ("tg_sim", tg_sim, R_SIM)):
                assert len(arr[k]) == len(grid[k]), f"{TITLES[i][j]} {name} col {k + 1}: {len(arr[k])} != {len(grid[k])}"
            x0 = (panel_left[j] + k * sub_w) / W
            y0 = (H - panel_top[i] - panel_h) / H
            ax = fig.add_axes([x0, y0, sub_w / W, panel_h / H])
            ax.plot(tg_sim[k], R_SIM[k], color=GREEN, lw=0.9, zorder=2)
            ax.plot(ax_sim[k], R_SIM[k], color='black', lw=1.0, zorder=3)
            ax.plot(tg_exp[k], R_EXP[k], 'o', ms=2.6, mfc='none', mec=GREEN, mew=0.8, zorder=4)
            ax.plot(ax_exp[k], R_EXP[k], 'h', ms=3.3, color='black', mew=0.3, zorder=5)
            ax.set_xlim(-80, 80)
            ax.set_ylim(-41, 41)
            ax.set_xticks([-40, 0, 40])
            ax.set_yticks(range(-40, 41, 10))
            if i == 2:
                ax.set_xticklabels(['-40', '', '40'])
            else:
                ax.set_xticklabels([])
            if j == 0 and k == 0:
                ax.set_yticklabels([str(v) for v in range(-40, 41, 10)])
            else:
                ax.set_yticklabels([])
            ax.tick_params(direction='in', length=2.5, width=0.6, color=FRAME, top=True, right=True,
                           labelsize=11, labelcolor='#383838', pad=3)
            for sp in ax.spines.values():
                sp.set_color(FRAME)
                sp.set_linewidth(0.9)
            if k == 2:
                ax.set_title(TITLES[i][j], fontsize=12, pad=4, color='#202020')

fig.text(18 / W, 1 - 415 / H, 'r [mm]', rotation=90, ha='center', va='center', fontsize=11, color='#202020')
fig.text(493 / W, 1 - 845 / H, 'Velocity [m/s]', ha='center', va='center', fontsize=11, color='#202020')

fig.savefig('out.png', dpi=100)
